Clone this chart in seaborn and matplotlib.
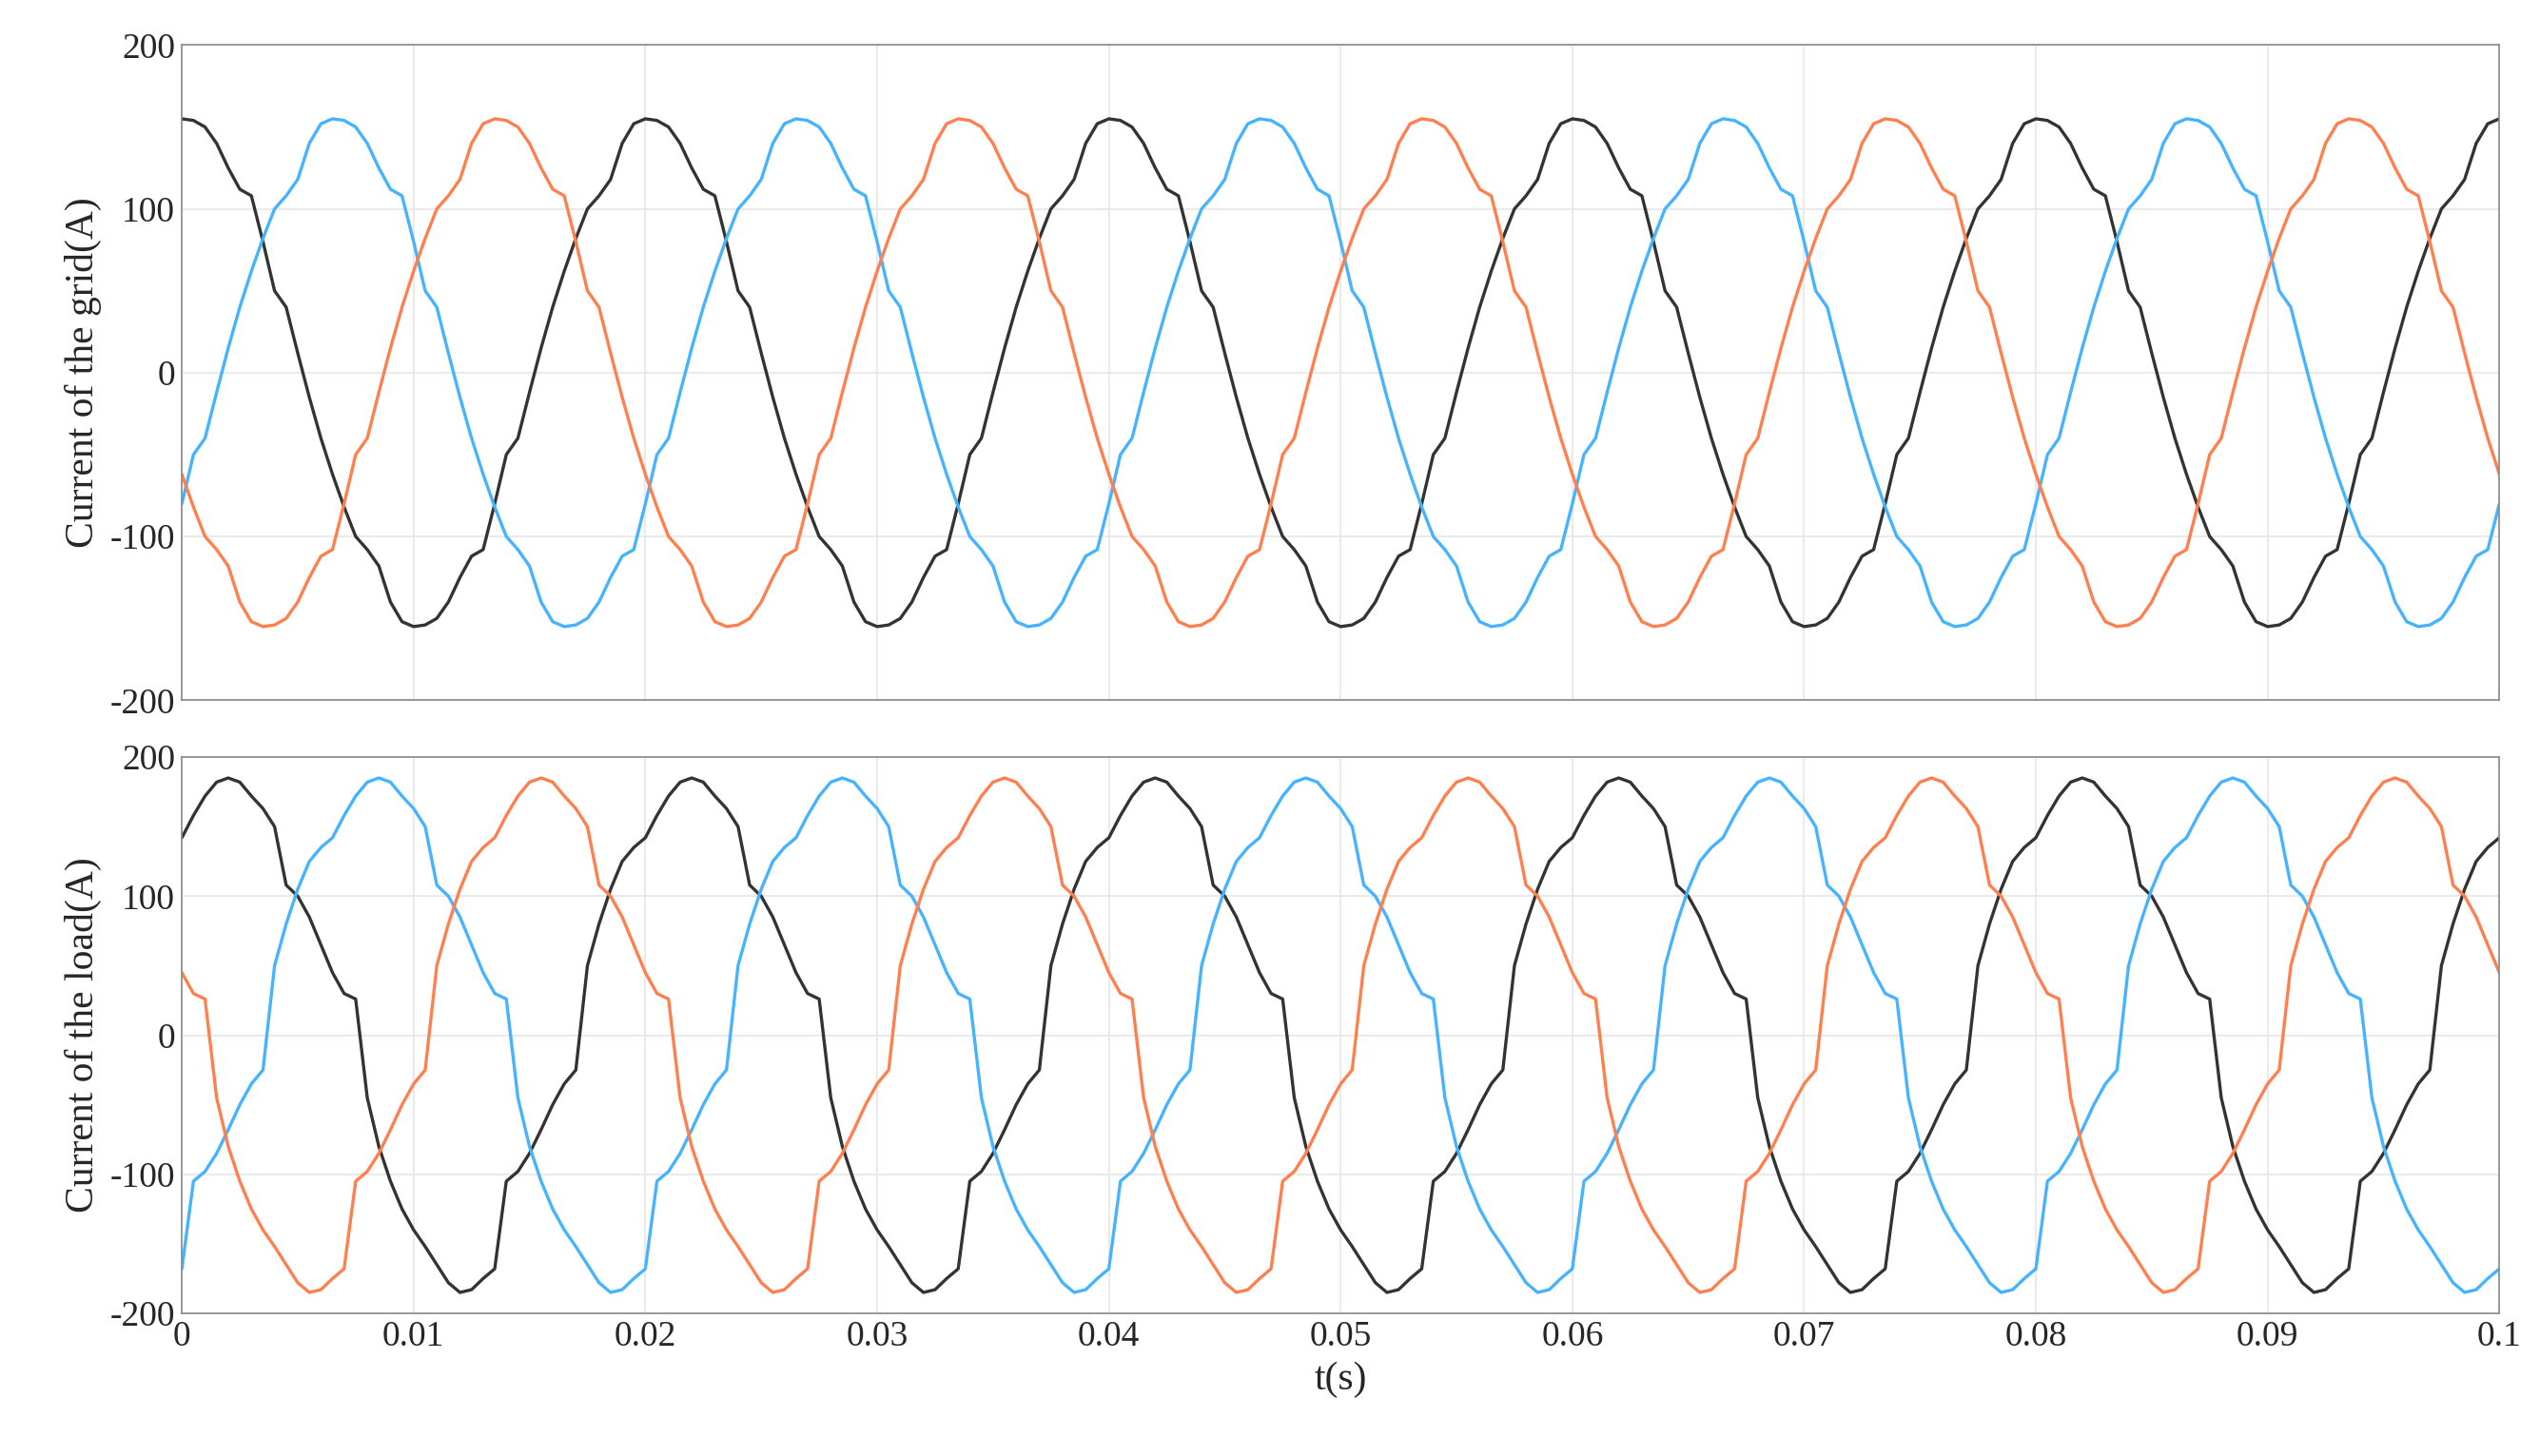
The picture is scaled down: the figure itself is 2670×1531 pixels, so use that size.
import numpy as np
import pandas as pd
import matplotlib.pyplot as plt
import seaborn as sns

grid_period = [155, 154, 150, 140, 125, 112, 108, 80, 50, 40, 12, -15, -40, -62, -82, -100,
               -108, -118, -140, -152, -155, -154, -150, -140, -125, -112, -108, -80, -50, -40,
               -12, 15, 40, 62, 82, 100, 108, 118, 140, 152]
load_period = [142, 158, 172, 182, 185, 182, 172, 163, 150, 108, 100, 85, 65, 45, 30, 26,
               -45, -80, -105, -125, -140, -152, -165, -178, -185, -183, -175, -168, -105, -98,
               -85, -68, -50, -35, -25, 50, 80, 105, 125, 135]
n_periods = 5
dt = 0.0005
phase_shift = 13  # samples (~1/3 period) between phases
colors = {"a": "#333333", "b": "#45b3ff", "c": "#ff7f4f"}

def three_phase(period):
    p = np.array(period, dtype=float)
    full = np.tile(p, n_periods + 1)
    t = np.arange(len(p) * n_periods + 1) * dt
    n = len(t)
    return pd.DataFrame({
        "t": np.concatenate([t, t, t]),
        "i": np.concatenate([full[:n], np.roll(full, phase_shift)[:n], np.roll(full, -phase_shift)[:n]]),
        "ph": ["a"] * n + ["b"] * n + ["c"] * n,
    })

sns.set_style("white")
plt.rcParams["font.family"] = ["Liberation Serif", "DejaVu Serif"]
plt.rcParams["axes.unicode_minus"] = False
fig = plt.figure(figsize=(17.8, 10.207), dpi=150)
ax1 = fig.add_axes([0.0716, 0.519, 0.9124, 0.45])
ax2 = fig.add_axes([0.0716, 0.098, 0.9124, 0.382])

for ax, period, label in [(ax1, grid_period, "Current of the grid(A)"),
                          (ax2, load_period, "Current of the load(A)")]:
    df = three_phase(period)
    sns.lineplot(data=df, x="t", y="i", hue="ph", palette=colors, legend=False,
                 ax=ax, linewidth=1.6, estimator=None, sort=False)
    ax.set_xlim(0, 0.1)
    ax.set_ylim(-200, 200)
    ax.set_yticks([-200, -100, 0, 100, 200])
    ax.set_xticks(np.arange(0, 0.1001, 0.01))
    ax.grid(True, color="#e6e6e6", linewidth=0.8)
    ax.set_ylabel(label, fontsize=20)
    ax.set_xlabel("")
    ax.tick_params(labelsize=18, direction="in", length=6, color="#888888")
    for s in ax.spines.values():
        s.set_color("#888888")

ax1.set_xticklabels([])
ax2.set_xticklabels(["0", "0.01", "0.02", "0.03", "0.04", "0.05", "0.06", "0.07", "0.08", "0.09", "0.1"])
ax2.set_xlabel("t(s)", fontsize=20)
fig.savefig("out.png", dpi=150)
